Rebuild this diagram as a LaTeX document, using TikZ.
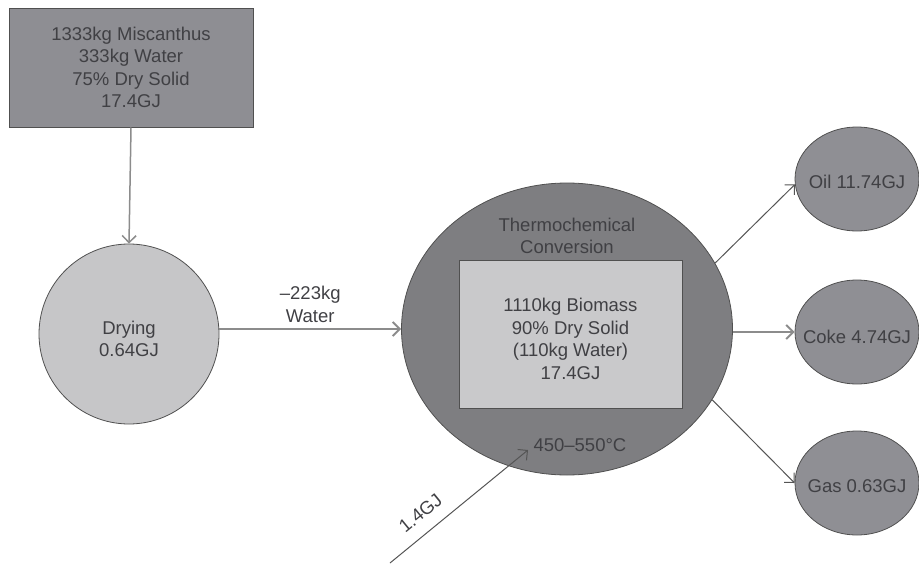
\documentclass[tikz,border=0pt]{standalone}
\usepackage{fontspec}
\setmainfont{Liberation Sans}
\usetikzlibrary{arrows.meta,shapes.geometric}
\definecolor{boxgray}{HTML}{8E8E93}
\definecolor{lightg}{HTML}{C6C6C8}
\definecolor{biggray}{HTML}{7E7E81}
\definecolor{innerg}{HTML}{C9C9CB}
\definecolor{outg}{HTML}{8F8F94}
\definecolor{edgeg}{HTML}{505050}
\definecolor{txt}{HTML}{404044}
\definecolor{lineg}{HTML}{555555}
\definecolor{lightline}{HTML}{8C8C8C}
\tikzset{
  lbl/.style={font=\fontsize{18.5}{22.5}\selectfont, text=txt, align=center},
  flow/.style={draw=lineg, line width=1pt, -{Straight Barb[length=7pt,width=14pt]}},
  softflow/.style={draw=lightline, line width=2pt, -{Straight Barb[length=7pt,width=14pt]}},
  outnode/.style={ellipse, draw=edgeg, fill=outg, line width=0.8pt, minimum width=124pt, minimum height=104pt, inner xsep=-30pt, inner ysep=0pt, lbl},
}
\begin{document}
\begin{tikzpicture}[x=1pt,y=-1pt]
\useasboundingbox (0,0) rectangle (919,565);
\begin{scope}
\clip (0,0) rectangle (919,565);
\node[draw=edgeg, fill=boxgray, line width=1pt, minimum width=244pt, minimum height=119pt, inner sep=0pt, lbl] (feed) at (131,67.5) {1333kg Miscanthus\\333kg Water\\75\% Dry Solid\\17.4GJ};
\node[circle, draw=edgeg, fill=lightg, line width=0.8pt, minimum size=180pt, inner sep=0pt] (dry) at (129,334) {};
\node[lbl] (drytxt) at (129,339) {Drying\\0.64GJ};
\node[ellipse, draw=edgeg, fill=biggray, line width=0.8pt, minimum width=331pt, minimum height=292pt, inner sep=0pt] (conv) at (567,329) {};
\node[draw=edgeg, fill=innerg, line width=0.8pt, minimum width=223pt, minimum height=148pt, inner sep=0pt] (bio) at (570.5,334) {};
\node[lbl] (biotxt) at (570.5,339) {1110kg Biomass\\90\% Dry Solid\\(110kg Water)\\17.4GJ};
\node[lbl] (title) at (567,236) {Thermochemical\\Conversion};
\node[lbl, anchor=west] (temp) at (530,445) {450–550°C};
\node[outnode] (oil) at (857,179) {};
\node[lbl] (oiltxt) at (857,182) {Oil 11.74GJ};
\node[outnode] (coke) at (857,332) {};
\node[lbl] (coketxt) at (857,337) {Coke 4.74GJ};
\node[outnode] (gas) at (857,483) {};
\node[lbl] (gastxt) at (857,486) {Gas 0.63GJ};
\coordinate (heatsrc) at (390,563);
\coordinate (heattip) at (528,450);
\draw[softflow, line width=1.5pt] (feed.south) -- (dry.north);
\draw[softflow] (dry.east |- conv.west) -- node[lbl, above=2pt] (wlab) {–223kg\\Water} (conv.west);
\draw[flow] (heatsrc) -- node[lbl, sloped, above=9pt, pos=0.31] (hlab) {1.4GJ} (heattip);
\draw[flow] (conv.24) -- (oil.185);
\draw[softflow] (conv.east |- coke.west) -- (coke.west);
\draw[flow] (conv.-26) -- (gas.west);
\end{scope}
\end{tikzpicture}
\end{document}
